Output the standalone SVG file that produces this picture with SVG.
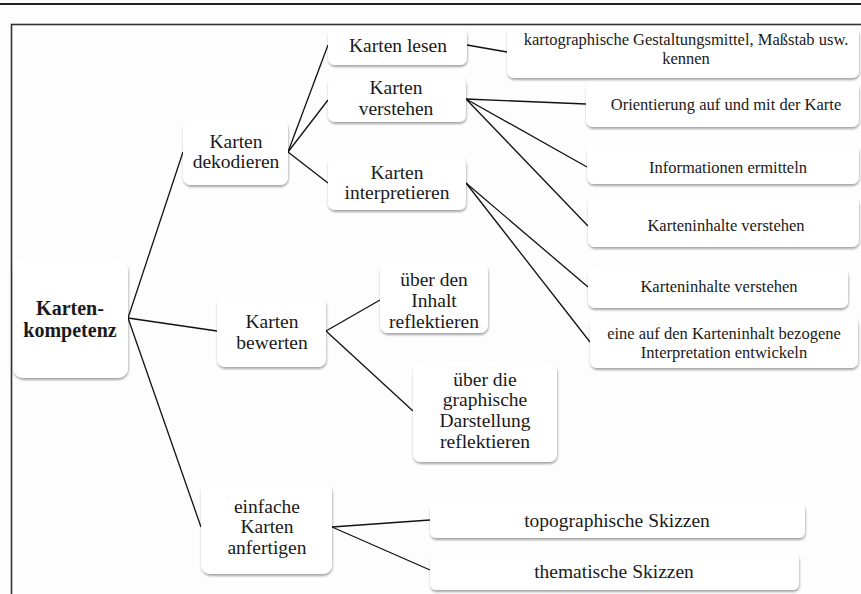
<svg xmlns="http://www.w3.org/2000/svg" width="861" height="594" viewBox="0 0 861 594">
<defs>
<filter id="sh" x="-10%" y="-10%" width="120%" height="130%">
<feDropShadow dx="0.5" dy="2" stdDeviation="1.3" flood-color="#000" flood-opacity="0.35"/>
</filter>
</defs>
<style>
.box{fill:#fff;stroke:none;filter:url(#sh)}
.t{font-family:"Liberation Serif","Times New Roman",serif;fill:#1a1a1a;text-anchor:middle}
.m{font-size:19.5px}
.s{font-size:16.5px}
.b{font-size:20px;font-weight:bold}
.c{stroke:#111;stroke-width:1.3;fill:none}
</style>
<rect x="0" y="0" width="861" height="594" fill="#fdfdfd"/>
<line x1="0" y1="4" x2="861" y2="4" stroke="#222" stroke-width="2"/>
<rect x="11.5" y="24.5" width="900" height="600" fill="none" stroke="#333" stroke-width="1.6"/>

<g id="connectors">
<line class="c" x1="128" y1="318" x2="183" y2="152"/>
<line class="c" x1="128" y1="318" x2="217" y2="331"/>
<line class="c" x1="128" y1="318" x2="201" y2="527"/>
<line class="c" x1="288" y1="152" x2="328" y2="45"/>
<line class="c" x1="288" y1="152" x2="328" y2="100"/>
<line class="c" x1="288" y1="152" x2="328" y2="183"/>
<line class="c" x1="467" y1="45" x2="507" y2="52"/>
<line class="c" x1="466" y1="99" x2="586" y2="104"/>
<line class="c" x1="466" y1="99" x2="587" y2="167"/>
<line class="c" x1="466" y1="99" x2="588" y2="226"/>
<line class="c" x1="466" y1="183" x2="588" y2="287"/>
<line class="c" x1="466" y1="183" x2="590" y2="342"/>
<line class="c" x1="326" y1="331" x2="380" y2="300"/>
<line class="c" x1="326" y1="331" x2="413" y2="411"/>
<line class="c" x1="332" y1="527" x2="430" y2="520"/>
<line class="c" x1="332" y1="527" x2="430" y2="570"/>
</g>

<g id="kartenkompetenz">
<rect class="box" x="13" y="260" width="115" height="118" rx="10"/>
<text class="t b" x="70" y="315">Karten-</text>
<text class="t b" x="70" y="337">kompetenz</text>
</g>

<g id="dekodieren">
<rect class="box" x="183" y="120" width="105" height="65" rx="8"/>
<text class="t m" x="236" y="148">Karten</text>
<text class="t m" x="236" y="168">dekodieren</text>
</g>

<g id="lesen">
<rect class="box" x="328" y="28" width="139" height="37" rx="7"/>
<text class="t m" x="398" y="52">Karten lesen</text>
</g>

<g id="verstehen">
<rect class="box" x="328" y="77" width="138" height="45" rx="7"/>
<text class="t m" x="396" y="94">Karten</text>
<text class="t m" x="396" y="115">verstehen</text>
</g>

<g id="interpretieren">
<rect class="box" x="328" y="157" width="138" height="53" rx="7"/>
<text class="t m" x="397" y="179">Karten</text>
<text class="t m" x="397" y="199">interpretieren</text>
</g>

<g id="kartographische">
<rect class="box" x="507" y="27" width="352" height="51" rx="7"/>
<text class="t s" x="686" y="45">kartographische Gestaltungsmittel, Maßstab usw.</text>
<text class="t s" x="686" y="64">kennen</text>
</g>

<g id="orientierung">
<rect class="box" x="586" y="82" width="273" height="45" rx="7"/>
<text class="t s" x="726" y="110">Orientierung auf und mit der Karte</text>
</g>

<g id="informationen">
<rect class="box" x="587" y="145" width="272" height="39" rx="7"/>
<text class="t s" x="728" y="173">Informationen ermitteln</text>
</g>

<g id="karteninhalte1">
<rect class="box" x="588" y="197" width="271" height="50" rx="7"/>
<text class="t s" x="726" y="231">Karteninhalte verstehen</text>
</g>

<g id="karteninhalte2">
<rect class="box" x="588" y="268" width="260" height="40" rx="7"/>
<text class="t s" x="719" y="292">Karteninhalte verstehen</text>
</g>

<g id="interpretation">
<rect class="box" x="590" y="317" width="268" height="51" rx="7"/>
<text class="t s" x="724" y="338.5">eine auf den Karteninhalt bezogene</text>
<text class="t s" x="724" y="357.5">Interpretation entwickeln</text>
</g>

<g id="bewerten">
<rect class="box" x="217" y="297" width="109" height="70" rx="8"/>
<text class="t m" x="272" y="328">Karten</text>
<text class="t m" x="272" y="349">bewerten</text>
</g>

<g id="inhalt">
<rect class="box" x="380" y="263" width="108" height="70" rx="8"/>
<text class="t m" x="434" y="286">über den</text>
<text class="t m" x="434" y="307">Inhalt</text>
<text class="t m" x="434" y="328">reflektieren</text>
</g>

<g id="darstellung">
<rect class="box" x="413" y="363" width="144" height="99" rx="8"/>
<text class="t m" x="485" y="386">über die</text>
<text class="t m" x="485" y="406">graphische</text>
<text class="t m" x="485" y="427">Darstellung</text>
<text class="t m" x="485" y="448">reflektieren</text>
</g>

<g id="anfertigen">
<rect class="box" x="201" y="482" width="131" height="92" rx="9"/>
<text class="t m" x="267" y="513">einfache</text>
<text class="t m" x="267" y="533">Karten</text>
<text class="t m" x="267" y="554">anfertigen</text>
</g>

<g id="topographisch">
<rect class="box" x="430" y="503" width="375" height="35" rx="6"/>
<text class="t m" x="617" y="527">topographische Skizzen</text>
</g>

<g id="thematisch">
<rect class="box" x="430" y="553" width="369" height="37" rx="6"/>
<text class="t m" x="614" y="578">thematische Skizzen</text>
</g>
</svg>
